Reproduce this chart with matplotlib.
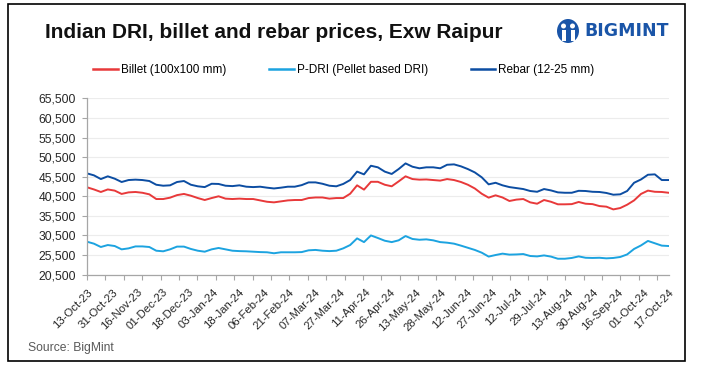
import numpy as np
import matplotlib.pyplot as plt
from matplotlib.patches import Rectangle, Ellipse

plt.rcParams["font.family"] = ["Liberation Sans", "DejaVu Sans"]

# daily series, Exw Raipur (INR/t), sampled evenly over 254 trading days
N_DAYS = 254
billet = [42800, 42250, 41600, 42250, 41950, 41100, 41500, 41600, 41400, 41000,
          39800, 39800, 40150, 40800, 41100, 40650, 40050, 39550, 40050, 40500,
          39900, 39800, 39900, 39800, 39800, 39450, 39100, 38950, 39200, 39450,
          39550, 39550, 40050, 40200, 40200, 39900, 40050, 40050, 41150, 43300,
          42200, 44200, 44200, 43450, 43050, 44300, 45600, 44900, 44750, 44800,
          44650, 44500, 44900, 44650, 44150, 43450, 42500, 41150, 40150, 40750,
          40200, 39300, 39650, 39800, 38950, 38600, 39550, 39100, 38450, 38450,
          38500, 39050, 38600, 38500, 38000, 37850, 37150, 37500, 38350, 39450,
          41100, 41950, 41650, 41600, 41400]
pdri = [28900, 28400, 27550, 28050, 27800, 26950, 27200, 27700, 27700, 27550,
        26600, 26450, 26950, 27650, 27650, 27050, 26600, 26350, 26950, 27300,
        26950, 26600, 26500, 26450, 26350, 26250, 26200, 25950, 26200, 26200,
        26200, 26250, 26700, 26800, 26600, 26500, 26600, 27200, 28050, 29750,
        28800, 30500, 29850, 29150, 28800, 29250, 30350, 29600, 29400, 29500,
        29250, 28800, 28650, 28400, 27900, 27350, 26800, 26100, 25100, 25500,
        25850, 25600, 25650, 25750, 25250, 25150, 25400, 25100, 24550, 24550,
        24750, 25150, 24800, 24750, 24800, 24650, 24750, 25000, 25650, 27050,
        27950, 29100, 28500, 27900, 27800]
rebar = [46350, 45850, 44900, 45600, 45000, 44150, 44650, 44750, 44650, 44400,
         43450, 43200, 43300, 44150, 44400, 43450, 43050, 42850, 43700, 43650,
         43200, 43100, 43300, 42950, 42850, 42950, 42700, 42500, 42700, 42950,
         42950, 43350, 44050, 44050, 43700, 43200, 43050, 43650, 44650, 46800,
         46100, 48300, 47900, 46800, 46200, 47450, 48900, 48050, 47650, 47900,
         47900, 47650, 48550, 48650, 48150, 47450, 46600, 45350, 43550, 43950,
         43300, 42850, 42600, 42350, 41850, 41650, 42350, 42000, 41500, 41400,
         41400, 41900, 41850, 41650, 41600, 41350, 40900, 41000, 41850, 43950,
         44800, 46000, 46100, 44650, 44650]

tick_labels = ["13-Oct-23", "31-Oct-23", "16-Nov-23", "01-Dec-23", "18-Dec-23",
               "03-Jan-24", "18-Jan-24", "06-Feb-24", "21-Feb-24", "07-Mar-24",
               "27-Mar-24", "11-Apr-24", "26-Apr-24", "13-May-24", "28-May-24",
               "12-Jun-24", "27-Jun-24", "12-Jul-24", "29-Jul-24", "13-Aug-24",
               "30-Aug-24", "16-Sep-24", "01-Oct-24", "17-Oct-24"]
series = [("Billet (100x100 mm)", billet, "#E8393A"),
          ("P-DRI (Pellet based DRI)", pdri, "#1CA3E0"),
          ("Rebar (12-25 mm)", rebar, "#0C4DA2")]

W, H = 706, 371
fig = plt.figure(figsize=(W / 100, H / 100), dpi=100)
fig.patches.append(Rectangle((8 / W, 10 / H), 677 / W, 357 / H, transform=fig.transFigure,
                             fill=False, ec="black", lw=1.2))

ax = fig.add_axes([87 / W, (H - 274.6) / H, 581.7 / W, 176.2 / H])
for name, vals, col in series:
    ax.plot(np.linspace(0, N_DAYS - 1, len(vals)), vals, color=col, lw=1.4, label=name,
            solid_joinstyle="round")

ax.set_xlim(0, N_DAYS - 1)
ax.set_ylim(20500, 65500)
ax.set_yticks(np.arange(20500, 65501, 5000))
ax.yaxis.set_major_formatter(plt.FuncFormatter(lambda v, p: f"{v:,.0f}"))
ax.tick_params(axis="y", length=3.3, width=0.8, color="#a6a6a6", labelsize=8.7,
               labelcolor="#262626", pad=4.5)
ax.grid(axis="y", color="#ececec", lw=0.8)
ax.set_axisbelow(True)

# labels every 11 days, tick marks every 8 days (Excel category axis)
ax.xaxis.remove_overlapping_locs = False
ax.set_xticks(np.arange(0, N_DAYS, 11))
ax.set_xticklabels(tick_labels, rotation=45, ha="right", va="top", rotation_mode="anchor",
                   fontsize=8.2, color="#262626")
ax.set_xticks(np.arange(0, N_DAYS, 8), minor=True)
ax.tick_params(axis="x", which="major", length=0, pad=9)
ax.tick_params(axis="x", which="minor", length=3.3, width=0.8, color="#a6a6a6")
for s in ["top", "right"]:
    ax.spines[s].set_visible(False)
for s in ["left", "bottom"]:
    ax.spines[s].set_color("#a6a6a6")
    ax.spines[s].set_linewidth(0.9)

fig.text(45 / W, 1 - 32 / H, "Indian DRI, billet and rebar prices, Exw Raipur", fontsize=15,
         fontweight="bold", va="center", ha="left", color="#111111")
leg = fig.legend(loc="center", bbox_to_anchor=(344 / W, 1 - 70 / H), ncol=3, frameon=False,
                 fontsize=8.5, handlelength=2.1, handletextpad=0.25, columnspacing=3.6)
for ln in leg.get_lines():
    ln.set_linewidth(1.8)
fig.text(28 / W, 1 - 348 / H, "Source: BigMint", fontsize=8.7, color="#595959",
         va="center", ha="left")

# BigMint logo
logo_col = "#1A55A8"
fig.patches.append(Ellipse((568 / W, 1 - 31 / H), 22 / W, 24 / H, transform=fig.transFigure,
                           fc=logo_col, ec="none"))
for dx in (-4.5, 4.5):
    fig.patches.append(Ellipse(((568 + dx) / W, 1 - 26 / H), 5 / W, 5 / H,
                               transform=fig.transFigure, fc="white", ec="none"))
    fig.patches.append(Rectangle(((568 + dx - 2) / W, 1 - 41 / H), 4 / W, 11 / H,
                                 transform=fig.transFigure, fc="white", ec="none"))
fig.text(584 / W, 1 - 31 / H, "BIGMINT", fontsize=12.5, fontweight="bold", color=logo_col,
         family="DejaVu Sans", va="center", ha="left")

fig.savefig("out.png", dpi=100)
